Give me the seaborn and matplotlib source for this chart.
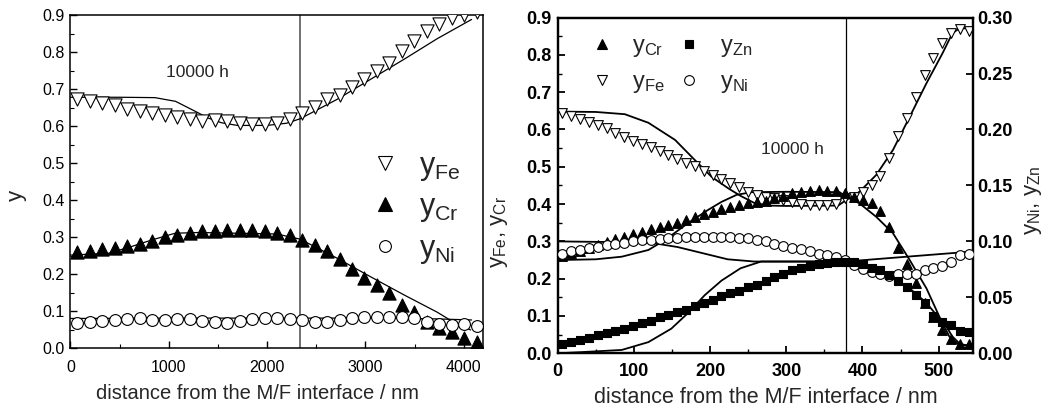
import numpy as np
import pandas as pd
import matplotlib
matplotlib.use("Agg")
import matplotlib.pyplot as plt
from matplotlib.lines import Line2D
from matplotlib.ticker import MultipleLocator, FormatStrFormatter
import seaborn as sns

# ---------------- data: left panel ----------------
x_left = [70, 197, 324, 451, 578, 705, 832, 959, 1086, 1213, 1340, 1467, 1594, 1721,
          1848, 1975, 2102, 2229, 2356, 2483, 2610, 2737, 2864, 2991, 3118, 3245,
          3372, 3499, 3626, 3753, 3880, 4007, 4134, 4261]
fe_left = [0.674, 0.667, 0.663, 0.656, 0.647, 0.642, 0.636, 0.631, 0.625, 0.619, 0.613,
           0.616, 0.614, 0.609, 0.606, 0.606, 0.609, 0.618, 0.636, 0.652, 0.672, 0.685,
           0.706, 0.728, 0.748, 0.771, 0.802, 0.829, 0.856, 0.877, 0.892, 0.901, 0.908]
cr_left = [0.260, 0.263, 0.269, 0.272, 0.277, 0.283, 0.291, 0.300, 0.306, 0.311, 0.316,
           0.318, 0.319, 0.319, 0.320, 0.318, 0.311, 0.307, 0.293, 0.280, 0.263, 0.241,
           0.215, 0.190, 0.172, 0.149, 0.118, 0.098, 0.072, 0.056, 0.044, 0.028, 0.018]
ni_left = [0.068, 0.071, 0.074, 0.077, 0.080, 0.081, 0.078, 0.076, 0.079, 0.079, 0.074,
           0.071, 0.069, 0.074, 0.080, 0.082, 0.082, 0.080, 0.076, 0.072, 0.071, 0.077,
           0.083, 0.086, 0.085, 0.084, 0.084, 0.083, 0.071, 0.066, 0.064, 0.066, 0.061, 0.062]

fe_line_left_x = [0, 500, 860, 1070, 1300, 1400, 1540, 1700, 2000, 2200, 2337, 2710, 3050, 3390, 3730, 4080]
fe_line_left_y = [0.678, 0.678, 0.677, 0.667, 0.636, 0.622, 0.609, 0.602, 0.602, 0.608, 0.620, 0.672, 0.726, 0.780, 0.836, 0.888]
cr_line_left_x = [0, 390, 620, 830, 1065, 1300, 1700, 2100, 2337, 2710, 3050, 3390, 3730, 3860, 4070]
cr_line_left_y = [0.252, 0.257, 0.275, 0.293, 0.311, 0.313, 0.311, 0.309, 0.295, 0.244, 0.194, 0.145, 0.098, 0.077, 0.050]
ni_line_left_x = [0, 1000, 2000, 3000, 3700, 4080]
ni_line_left_y = [0.081, 0.082, 0.082, 0.082, 0.080, 0.077]

# ---------------- data: right panel ----------------
x_right = [6.0, 17.6, 29.2, 40.8, 52.4, 64.0, 75.6, 87.2, 98.8, 110.4, 122.0, 133.6, 145.2,
           156.8, 168.4, 180.0, 191.6, 203.2, 214.8, 226.4, 238.0, 249.6, 261.2, 272.8,
           284.4, 296.0, 307.6, 319.2, 330.8, 342.4, 354.0, 365.6, 377.2, 388.8, 400.4,
           412.0, 423.6, 435.2, 446.8, 458.4, 470.0, 481.6, 493.2, 504.8, 516.4, 528.0, 539.6]
fe_right = [0.643, 0.636, 0.627, 0.621, 0.612, 0.603, 0.591, 0.581, 0.570, 0.560, 0.552,
            0.541, 0.532, 0.521, 0.511, 0.501, 0.490, 0.478, 0.467, 0.456, 0.445, 0.433,
            0.424, 0.420, 0.415, 0.410, 0.405, 0.400, 0.398, 0.398, 0.398, 0.400, 0.415,
            0.420, 0.433, 0.451, 0.474, 0.523, 0.583, 0.630, 0.687, 0.746, 0.791, 0.833,
            0.858, 0.869, 0.865]
cr_right = [0.262, 0.268, 0.275, 0.282, 0.290, 0.299, 0.306, 0.313, 0.319, 0.326, 0.332,
            0.338, 0.344, 0.350, 0.357, 0.366, 0.373, 0.380, 0.386, 0.391, 0.398, 0.402,
            0.406, 0.408, 0.415, 0.422, 0.429, 0.433, 0.436, 0.438, 0.436, 0.436, 0.431,
            0.420, 0.411, 0.404, 0.382, 0.338, 0.281, 0.239, 0.188, 0.135, 0.098, 0.062,
            0.037, 0.025, 0.025]
ni_right = [0.089, 0.091, 0.092, 0.094, 0.095, 0.097, 0.098, 0.099, 0.100, 0.101, 0.101,
            0.102, 0.103, 0.103, 0.104, 0.104, 0.104, 0.104, 0.104, 0.104, 0.103, 0.103,
            0.101, 0.100, 0.098, 0.096, 0.094, 0.093, 0.091, 0.089, 0.088, 0.086, 0.083,
            0.079, 0.075, 0.073, 0.071, 0.069, 0.071, 0.071, 0.071, 0.074, 0.076, 0.078,
            0.082, 0.088, 0.089]
zn_right = [0.008, 0.010, 0.012, 0.014, 0.016, 0.018, 0.020, 0.022, 0.024, 0.027, 0.029,
            0.032, 0.034, 0.037, 0.039, 0.042, 0.045, 0.048, 0.051, 0.054, 0.056, 0.059,
            0.061, 0.065, 0.068, 0.071, 0.074, 0.076, 0.078, 0.080, 0.081, 0.082, 0.082,
            0.082, 0.080, 0.076, 0.074, 0.070, 0.065, 0.059, 0.052, 0.045, 0.033, 0.028,
            0.025, 0.020, 0.019]

fe_line_right_x = [0, 50, 88, 119, 154, 180, 202, 224, 240, 258, 278, 300, 368, 378, 396, 418, 440, 462, 484, 505, 518, 527, 545]
fe_line_right_y = [0.648, 0.647, 0.641, 0.618, 0.572, 0.518, 0.473, 0.442, 0.422, 0.403, 0.396, 0.395, 0.396, 0.410, 0.433, 0.478, 0.545, 0.634, 0.724, 0.804, 0.858, 0.871, 0.872]
cr_line_right_x = [0, 50, 84, 119, 141, 171, 197, 215, 235, 255, 300, 370, 378, 396, 418, 440, 462, 484, 501, 514, 527, 545]
cr_line_right_y = [0.250, 0.252, 0.259, 0.277, 0.304, 0.349, 0.384, 0.406, 0.425, 0.432, 0.433, 0.432, 0.420, 0.402, 0.366, 0.322, 0.250, 0.174, 0.098, 0.045, 0.022, 0.022]
ni_line_right_x = [0, 120, 157, 193, 223, 258, 378, 545]
ni_line_right_y = [0.100, 0.099, 0.095, 0.089, 0.084, 0.082, 0.082, 0.091]
zn_line_right_x = [0, 30, 84, 119, 149, 171, 193, 215, 240, 267, 300, 378, 396, 418, 440, 462, 484, 501, 510, 518, 527, 540]
zn_line_right_y = [0.000, 0.001, 0.003, 0.010, 0.022, 0.036, 0.052, 0.065, 0.076, 0.082, 0.082, 0.082, 0.079, 0.074, 0.067, 0.058, 0.045, 0.031, 0.024, 0.015, 0.009, 0.006]

interface_left = 2337
interface_right = 378

# ---------------- style ----------------
sns.set_theme(style="ticks")
plt.rcParams['font.family'] = ['Liberation Sans', 'DejaVu Sans']
plt.rcParams['mathtext.fontset'] = 'custom'
plt.rcParams['mathtext.rm'] = 'Liberation Sans'
plt.rcParams['mathtext.it'] = 'Liberation Sans'
plt.rcParams['mathtext.bf'] = 'Liberation Sans:bold'

fig = plt.figure(figsize=(10.61, 4.11), dpi=100)
axL = fig.add_axes([0.0663, 0.1521, 0.3893, 0.8114])
axR = fig.add_axes([0.5257, 0.1404, 0.3913, 0.8168])
axR2 = axR.twinx()

TL = 11.5
TR = 13

def markers(ax, x, y, marker, face, size, lw=0.8):
    n = min(len(x), len(y))
    sns.scatterplot(x=x[:n], y=y[:n], marker=marker, s=size ** 2, color=face,
                    edgecolor='black', linewidth=lw, ax=ax, zorder=4, legend=False)

def curve(ax, x, y, lw=1.0):
    sns.lineplot(x=x, y=y, color='black', linewidth=lw, ax=ax, estimator=None,
                 sort=False, zorder=3, legend=False)

# ---- left panel ----
curve(axL, fe_line_left_x, fe_line_left_y, 0.9)
curve(axL, cr_line_left_x, cr_line_left_y, 0.9)
curve(axL, ni_line_left_x, ni_line_left_y, 0.9)
markers(axL, x_left, fe_left, 'v', 'white', 9.5)
markers(axL, x_left, cr_left, '^', 'black', 9.5)
markers(axL, x_left, ni_left, 'o', 'white', 8.5)
axL.axvline(interface_left, color='#666666', lw=1.3, zorder=2)
axL.set_xlim(0, 4200)
axL.set_ylim(0, 0.9)
axL.xaxis.set_major_locator(MultipleLocator(1000))
axL.xaxis.set_minor_locator(MultipleLocator(500))
axL.yaxis.set_major_locator(MultipleLocator(0.1))
axL.yaxis.set_minor_locator(MultipleLocator(0.05))
axL.yaxis.set_major_formatter(FormatStrFormatter('%.1f'))
axL.tick_params(which='both', direction='in', top=False, right=False, labelsize=TL, colors='black')
axL.tick_params(which='major', length=5, width=1)
axL.tick_params(which='minor', length=3, width=0.8)
axL.tick_params(axis='x', which='both', pad=8)
axL.tick_params(axis='y', which='both', pad=4)
for s in axL.spines.values():
    s.set_linewidth(1.1)
    s.set_color('black')
axL.set_xlabel('distance from the M/F interface / nm', fontsize=14.5)
axL.xaxis.set_label_coords(0.452, -0.107)
axL.set_ylabel('y', fontsize=16)
axL.yaxis.set_label_coords(-0.105, 0.46)
axL.text(1290, 0.745, '10000 h', fontsize=12.5, ha='center', va='center')
hL = [Line2D([], [], marker='v', ls='none', mfc='white', mec='black', ms=9.5, mew=0.8),
      Line2D([], [], marker='^', ls='none', mfc='black', mec='black', ms=9.5, mew=0.8),
      Line2D([], [], marker='o', ls='none', mfc='white', mec='black', ms=8.5, mew=0.8)]
axL.legend(hL, [r'$\mathregular{y_{Fe}}$', r'$\mathregular{y_{Cr}}$', r'$\mathregular{y_{Ni}}$'],
           loc='upper left', bbox_to_anchor=(0.687, 0.639), frameon=False, fontsize=22,
           handlelength=1.0, handletextpad=0.63, labelspacing=0.31, borderpad=0)

# ---- right panel ----
curve(axR, fe_line_right_x, fe_line_right_y, 1.3)
curve(axR, cr_line_right_x, cr_line_right_y, 1.3)
curve(axR2, ni_line_right_x, ni_line_right_y, 1.3)
curve(axR2, zn_line_right_x, zn_line_right_y, 1.3)
markers(axR, x_right, fe_right, 'v', 'white', 7)
markers(axR, x_right, cr_right, '^', 'black', 7)
markers(axR2, x_right, ni_right, 'o', 'white', 7)
markers(axR2, x_right, zn_right, 's', 'black', 6)
axR.axvline(interface_right, color='black', lw=0.9, zorder=2)
axR.set_xlim(0, 545)
axR.set_ylim(0, 0.9)
axR2.set_ylim(0, 0.3)
axR.xaxis.set_major_locator(MultipleLocator(100))
axR.xaxis.set_minor_locator(MultipleLocator(50))
axR.yaxis.set_major_locator(MultipleLocator(0.1))
axR.yaxis.set_minor_locator(MultipleLocator(0.05))
axR.yaxis.set_major_formatter(FormatStrFormatter('%.1f'))
axR2.yaxis.set_major_locator(MultipleLocator(0.05))
axR2.yaxis.set_major_formatter(FormatStrFormatter('%.2f'))
axR.tick_params(which='both', direction='in', top=False, right=False, labelsize=TR, colors='black')
axR.tick_params(which='major', length=5, width=1.3)
axR.tick_params(which='minor', length=3, width=1)
axR.tick_params(axis='x', which='both', pad=7)
axR.tick_params(axis='y', which='both', pad=4.5)
axR2.tick_params(which='both', direction='in', labelsize=TR, colors='black', length=5, width=1.3, pad=3)
for lab in axR.get_xticklabels() + axR.get_yticklabels() + axR2.get_yticklabels():
    lab.set_fontweight('bold')
for a in (axR, axR2):
    for s in a.spines.values():
        s.set_linewidth(1.6)
        s.set_color('black')
axR.set_xlabel('distance from the M/F interface / nm', fontsize=15.5)
axR.xaxis.set_label_coords(0.5, -0.100)
axR.set_ylabel(r'$\mathregular{y_{Fe}}$, $\mathregular{y_{Cr}}$', fontsize=16)
axR.yaxis.set_label_coords(-0.115, 0.36)
axR2.set_ylabel(r'$\mathregular{y_{Ni}}$, $\mathregular{y_{Zn}}$', fontsize=16)
axR2.yaxis.set_label_coords(1.12, 0.457)
axR.text(308, 0.547, '10000 h', fontsize=12.5, ha='center', va='center')
hR = [Line2D([], [], marker='^', ls='none', mfc='black', mec='black', ms=7, mew=0.8),
      Line2D([], [], marker='v', ls='none', mfc='white', mec='black', ms=7, mew=0.8),
      Line2D([], [], marker='s', ls='none', mfc='black', mec='black', ms=6, mew=0.8),
      Line2D([], [], marker='o', ls='none', mfc='white', mec='black', ms=7, mew=0.8)]
axR.legend(hR, [r'$\mathregular{y_{Cr}}$', r'$\mathregular{y_{Fe}}$',
                r'$\mathregular{y_{Zn}}$', r'$\mathregular{y_{Ni}}$'],
           ncol=2, loc='upper left', bbox_to_anchor=(0.0487, 0.982), frameon=False, fontsize=17,
           handlelength=1.0, handletextpad=0.78, labelspacing=0.5, columnspacing=0.56, borderpad=0)

fig.savefig('out.png', dpi=100)
